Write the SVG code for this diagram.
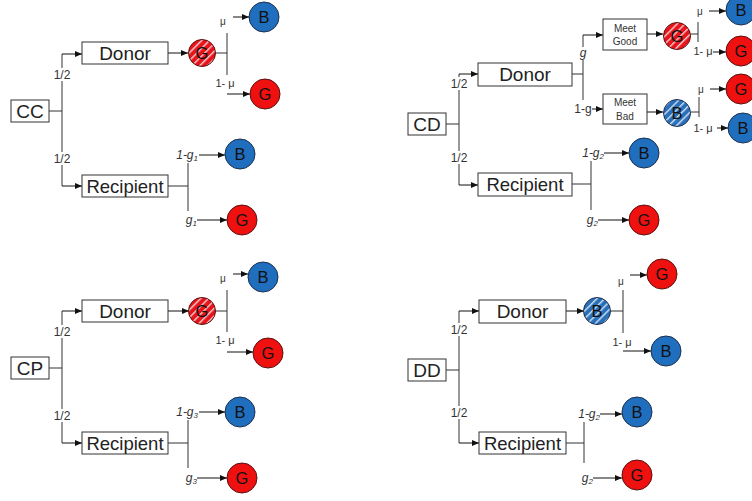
<svg xmlns="http://www.w3.org/2000/svg" width="752" height="501" viewBox="0 0 752 501">
<defs>
<marker id="ah" markerWidth="7" markerHeight="6" refX="7" refY="3" orient="auto" markerUnits="userSpaceOnUse"><path d="M0,0 L7,3 L0,6 z" fill="#111"/></marker>
<pattern id="sr" patternUnits="userSpaceOnUse" width="5.5" height="5.5" patternTransform="rotate(45)"><rect width="5.5" height="5.5" fill="#e8141b"/><rect x="0" width="1.4" height="5.5" fill="#f4d0d0"/></pattern>
<pattern id="sb" patternUnits="userSpaceOnUse" width="5.5" height="5.5" patternTransform="rotate(45)"><rect width="5.5" height="5.5" fill="#2a70b8"/><rect x="0" width="1.4" height="5.5" fill="#cfe0f2"/></pattern>
</defs>
<style>
.box{fill:#fff;stroke:#333;stroke-width:1}
.big{font-family:"Liberation Sans",Arial,sans-serif;font-size:19px;fill:#222;text-anchor:middle}
.mid{font-family:"Liberation Sans",Arial,sans-serif;font-size:18.5px;fill:#222;text-anchor:middle}
.sm{font-family:"Liberation Sans",Arial,sans-serif;font-size:10px;fill:#333;text-anchor:middle}
.lab{font-family:"Liberation Sans",Arial,sans-serif;font-size:12px;fill:#333;text-anchor:middle}
.mu{font-family:"Liberation Sans",Arial,sans-serif;font-size:11px;fill:#333;text-anchor:middle}
.it{font-family:"Liberation Sans",Arial,sans-serif;font-size:12px;font-style:italic;fill:#333;text-anchor:end}
.ln{fill:none;stroke:#333;stroke-width:1}
.ar{fill:none;stroke:#111;stroke-width:1;marker-end:url(#ah)}
.bg{fill:#fff}
.cb{fill:#1f6fbe;stroke:#1c2f4f;stroke-width:1}
.cr{fill:#ef1010;stroke:#5a1010;stroke-width:1}
.csr{fill:url(#sr);stroke:#5a1010;stroke-width:1}
.csb{fill:url(#sb);stroke:#1c2f4f;stroke-width:1}
.cl{font-family:"Liberation Sans",Arial,sans-serif;font-size:16.5px;fill:#111;text-anchor:middle}
</style>
<rect width="752" height="501" fill="#fff"/>

<!-- ===== CC panel ===== -->
<g id="panel-cc">
<g id="connectors-cc">
<path class="ln" d="M49,111 H62 M62,54 V186"/>
<path class="ar" d="M62,54 H82"/>
<path class="ar" d="M62,186 H82"/>
<path class="ar" d="M168,53 H188"/>
<path class="ln" d="M216,53 H227 M227,33 V75"/>
<path class="ar" d="M233,17 H249"/>
<path class="ar" d="M227,94 H250"/>
<path class="ln" d="M168,186 H188 M188,163 V211"/>
<path class="ar" d="M199,155 H225"/>
<path class="ar" d="M197,220 H227"/>
<rect class="bg" x="53" y="68" width="18" height="13"/>
<text class="lab" x="62" y="79">1/2</text>
<rect class="bg" x="53" y="152" width="18" height="13"/>
<text class="lab" x="62" y="163">1/2</text>
<text class="sm" x="223" y="25">μ</text>
<text class="mu" x="225" y="87">1- μ</text>
<text class="it" x="198" y="159">1-g<tspan font-size="8" dy="2">1</tspan></text>
<text class="it" x="197" y="224">g<tspan font-size="8" dy="2">1</tspan></text>
</g>
<g id="cc-root"><rect class="box" x="11" y="100" width="38" height="22"/><text class="big" x="30" y="118">CC</text></g>
<g id="cc-donor"><rect class="box" x="82" y="42" width="86" height="22"/><text class="big" x="125" y="60">Donor</text></g>
<g id="cc-recipient"><rect class="box" x="82" y="175" width="86" height="22"/><text class="mid" x="125" y="193">Recipient</text></g>
<g id="cc-donor-g"><circle class="csr" cx="202" cy="53" r="13.5"/><text class="cl" x="202" y="59">G</text></g>
<g id="cc-mu-b"><circle class="cb" cx="264" cy="17" r="15"/><text class="cl" x="264" y="23">B</text></g>
<g id="cc-1mu-g"><circle class="cr" cx="265" cy="94" r="15"/><text class="cl" x="265" y="100">G</text></g>
<g id="cc-rec-b"><circle class="cb" cx="240" cy="154" r="15"/><text class="cl" x="240" y="160">B</text></g>
<g id="cc-rec-g"><circle class="cr" cx="242" cy="220" r="15"/><text class="cl" x="242" y="226">G</text></g>
</g>

<!-- ===== CP panel ===== -->
<g id="panel-cp" transform="translate(0,257)">
<g id="connectors-cp">
<path class="ln" d="M49,111 H62 M62,54 V186"/>
<path class="ar" d="M62,54 H82"/>
<path class="ar" d="M62,186 H82"/>
<path class="ar" d="M168,54 H189"/>
<path class="ln" d="M216,54 H227 M227,33 V75"/>
<path class="ar" d="M233,17 H248"/>
<path class="ar" d="M227,95 H253"/>
<path class="ln" d="M168,186 H188 M188,163 V211"/>
<path class="ar" d="M199,155 H225"/>
<path class="ar" d="M197,221 H227"/>
<rect class="bg" x="53" y="68" width="18" height="13"/>
<text class="lab" x="62" y="79">1/2</text>
<rect class="bg" x="53" y="152" width="18" height="13"/>
<text class="lab" x="62" y="163">1/2</text>
<text class="sm" x="223" y="25">μ</text>
<text class="mu" x="225" y="87">1- μ</text>
<text class="it" x="198" y="159">1-g<tspan font-size="8" dy="2">3</tspan></text>
<text class="it" x="197" y="225">g<tspan font-size="8" dy="2">3</tspan></text>
</g>
<g id="cp-root"><rect class="box" x="11" y="100" width="38" height="22"/><text class="big" x="30" y="118">CP</text></g>
<g id="cp-donor"><rect class="box" x="82" y="43" width="86" height="22"/><text class="big" x="125" y="61">Donor</text></g>
<g id="cp-recipient"><rect class="box" x="82" y="175" width="86" height="22"/><text class="mid" x="125" y="193">Recipient</text></g>
<g id="cp-donor-g"><circle class="csr" cx="202" cy="54" r="13.5"/><text class="cl" x="202" y="60">G</text></g>
<g id="cp-mu-b"><circle class="cb" cx="263" cy="20" r="15"/><text class="cl" x="263" y="26">B</text></g>
<g id="cp-1mu-g"><circle class="cr" cx="268" cy="96" r="15"/><text class="cl" x="268" y="102">G</text></g>
<g id="cp-rec-b"><circle class="cb" cx="240" cy="155" r="15"/><text class="cl" x="240" y="161">B</text></g>
<g id="cp-rec-g"><circle class="cr" cx="242" cy="221" r="15"/><text class="cl" x="242" y="227">G</text></g>
</g>

<!-- ===== CD panel ===== -->
<g id="panel-cd">
<g id="connectors-cd">
<path class="ln" d="M446,124 H459 M459,74 V185"/>
<path class="ar" d="M459,74 H478"/>
<path class="ar" d="M459,185 H478"/>
<path class="ln" d="M572,74 H583 M583,35 V100"/>
<path class="ar" d="M583,35 H603"/>
<path class="ar" d="M592,109 H603"/>
<path class="ar" d="M647,34 H663"/>
<path class="ln" d="M690,34 H698 M698,22 V42"/>
<path class="ar" d="M709,11 H726"/>
<path class="ar" d="M713,52 H726"/>
<path class="ar" d="M647,112 H663"/>
<path class="ln" d="M691,112 H699 M699,97 V117"/>
<path class="ar" d="M710,89 H726"/>
<path class="ar" d="M717,128 H728"/>
<path class="ln" d="M572,184 H591 M591,161 V210"/>
<path class="ar" d="M604,153 H629"/>
<path class="ar" d="M598,220 H629"/>
<rect class="bg" x="450" y="77" width="18" height="13"/>
<text class="lab" x="459" y="88">1/2</text>
<rect class="bg" x="450" y="151" width="18" height="13"/>
<text class="lab" x="459" y="162">1/2</text>
<rect class="bg" x="578" y="47" width="10" height="13"/>
<text class="it" x="583" y="57" style="text-anchor:middle">g</text>
<text class="lab" x="583" y="113">1-g</text>
<text class="sm" x="700" y="15">μ</text>
<text class="mu" x="703" y="55">1- μ</text>
<text class="sm" x="701" y="93">μ</text>
<text class="mu" x="703" y="132">1- μ</text>
<text class="it" x="604" y="157">1-g<tspan font-size="8" dy="2">2</tspan></text>
<text class="it" x="598" y="224">g<tspan font-size="8" dy="2">2</tspan></text>
</g>
<g id="cd-root"><rect class="box" x="408" y="113" width="38" height="22"/><text class="big" x="427" y="131">CD</text></g>
<g id="cd-donor"><rect class="box" x="478" y="63" width="94" height="23"/><text class="big" x="525" y="81">Donor</text></g>
<g id="cd-recipient"><rect class="box" x="478" y="173" width="94" height="23"/><text class="mid" x="525" y="191">Recipient</text></g>
<g id="cd-meet-good"><rect class="box" x="603" y="19" width="44" height="31"/><text class="sm" x="625" y="32">Meet</text><text class="sm" x="625" y="45">Good</text></g>
<g id="cd-meet-bad"><rect class="box" x="603" y="94" width="44" height="30"/><text class="sm" x="625" y="106">Meet</text><text class="sm" x="625" y="120">Bad</text></g>
<g id="cd-good-g"><circle class="csr" cx="677" cy="36" r="13.5"/><text class="cl" x="677" y="42">G</text></g>
<g id="cd-bad-b"><circle class="csb" cx="677" cy="113" r="13.5"/><text class="cl" x="677" y="119">B</text></g>
<g id="cd-good-mu-b"><circle class="cb" cx="741" cy="10" r="15"/><text class="cl" x="741" y="16">B</text></g>
<g id="cd-good-1mu-g"><circle class="cr" cx="741" cy="51" r="15"/><text class="cl" x="741" y="57">G</text></g>
<g id="cd-bad-mu-g"><circle class="cr" cx="741" cy="89" r="15"/><text class="cl" x="741" y="95">G</text></g>
<g id="cd-bad-1mu-b"><circle class="cb" cx="743" cy="128" r="15"/><text class="cl" x="743" y="134">B</text></g>
<g id="cd-rec-b"><circle class="cb" cx="644" cy="153" r="15"/><text class="cl" x="644" y="159">B</text></g>
<g id="cd-rec-g"><circle class="cr" cx="644" cy="220" r="15"/><text class="cl" x="644" y="226">G</text></g>
</g>

<!-- ===== DD panel ===== -->
<g id="panel-dd">
<g id="connectors-dd">
<path class="ln" d="M446,370 H459 M459,311 V443"/>
<path class="ar" d="M459,311 H479"/>
<path class="ar" d="M459,443 H479"/>
<path class="ar" d="M566,311 H584"/>
<path class="ln" d="M611,311 H623 M623,290 V333"/>
<path class="ar" d="M630,275 H647"/>
<path class="ar" d="M623,351 H651"/>
<path class="ln" d="M566,443 H584 M584,422 V463"/>
<path class="ar" d="M600,414 H622"/>
<path class="ar" d="M593,478 H622"/>
<rect class="bg" x="450" y="323" width="18" height="13"/>
<text class="lab" x="459" y="334">1/2</text>
<rect class="bg" x="450" y="406" width="18" height="13"/>
<text class="lab" x="459" y="417">1/2</text>
<text class="sm" x="621" y="285">μ</text>
<text class="mu" x="622" y="346">1- μ</text>
<text class="it" x="600" y="418">1-g<tspan font-size="8" dy="2">2</tspan></text>
<text class="it" x="593" y="482">g<tspan font-size="8" dy="2">2</tspan></text>
</g>
<g id="dd-root"><rect class="box" x="408" y="359" width="38" height="22"/><text class="big" x="427" y="377">DD</text></g>
<g id="dd-donor"><rect class="box" x="479" y="300" width="87" height="23"/><text class="big" x="522.5" y="318">Donor</text></g>
<g id="dd-recipient"><rect class="box" x="479" y="432" width="87" height="22"/><text class="mid" x="522.5" y="450">Recipient</text></g>
<g id="dd-donor-b"><circle class="csb" cx="597" cy="311" r="13.5"/><text class="cl" x="597" y="317">B</text></g>
<g id="dd-mu-g"><circle class="cr" cx="662" cy="274" r="15"/><text class="cl" x="662" y="280">G</text></g>
<g id="dd-1mu-b"><circle class="cb" cx="666" cy="351" r="15"/><text class="cl" x="666" y="357">B</text></g>
<g id="dd-rec-b"><circle class="cb" cx="637" cy="412" r="15"/><text class="cl" x="637" y="418">B</text></g>
<g id="dd-rec-g"><circle class="cr" cx="637" cy="475" r="15"/><text class="cl" x="637" y="481">G</text></g>
</g>
</svg>
